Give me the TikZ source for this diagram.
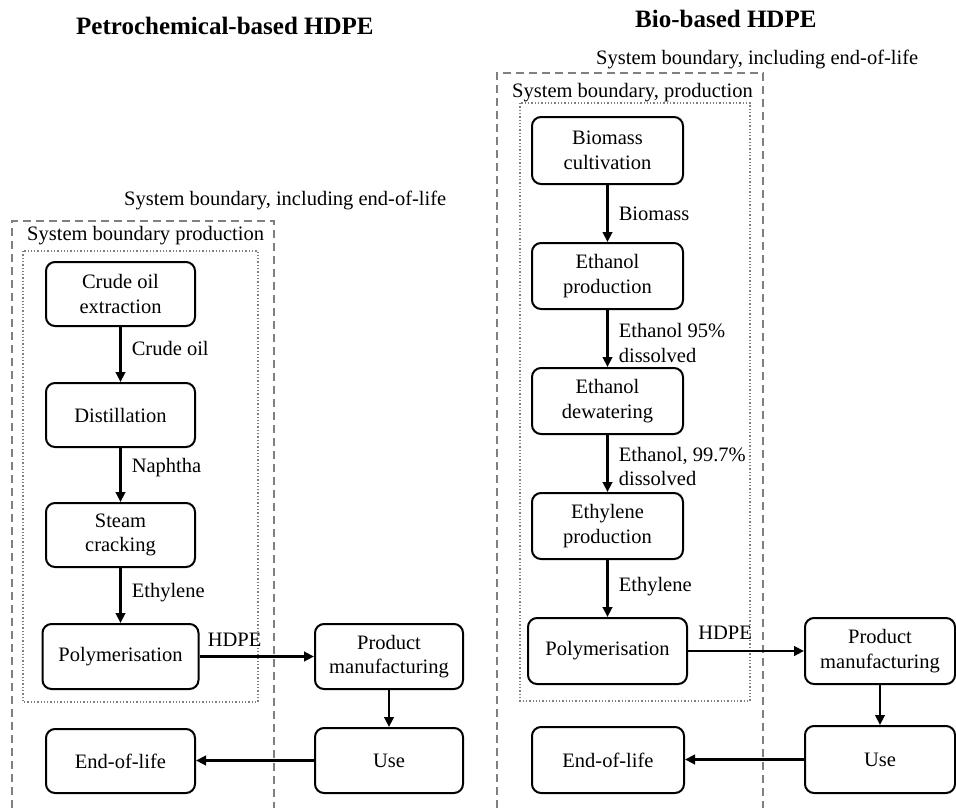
\documentclass[tikz,border=0pt]{standalone}
\usepackage{fontspec}
\setmainfont{Liberation Serif}
\usetikzlibrary{arrows.meta}
\begin{document}
\begin{tikzpicture}[x=1pt,y=-1pt,
 box/.style={draw, line width=2pt, rounded corners=9pt, align=center, font=\fontsize{20.5}{24.5}\selectfont, inner sep=0pt},
 arr/.style={line width=2.6pt, -{Triangle[length=10pt,width=9.5pt]}},
 lbl/.style={font=\fontsize{20.5}{24.5}\selectfont, align=left, inner sep=0pt, anchor=west, xshift=10pt},
 txt/.style={font=\fontsize{20.5}{24.5}\selectfont, inner sep=0pt, anchor=base west},
 ttl/.style={font=\fontsize{25}{30}\selectfont\bfseries, inner sep=0pt, anchor=base west},
 outerb/.style={draw=gray, line width=1.7pt, dash pattern=on 8pt off 5pt},
 innerb/.style={draw=gray, line width=1.3pt, dash pattern=on 1.3pt off 2pt},
]
\useasboundingbox (0,0) rectangle (956,808);

% ---------- titles ----------
\node[ttl] (t1) at (76,35) {Petrochemical-based HDPE};
\node[ttl] (t2) at (635,28) {Bio-based HDPE};

% ---------- boundaries, left ----------
\draw[outerb] (12,808) -- (12,221) -- (274,221) -- (274,808);
\draw[innerb] (23,251) rectangle (258,702);
\node[txt] (lsb1) at (124,205) {System boundary, including end-of-life};
\node[txt] (lsb2) at (27,240) {System boundary production};

% ---------- boundaries, right ----------
\draw[outerb] (497,808) -- (497,73) -- (763,73) -- (763,808);
\draw[innerb] (520,103) rectangle (750,701);
\node[txt] (rsb1) at (596,65) {System boundary, including end-of-life};
\node[txt] (rsb2) at (512,97) {System boundary, production};

% ---------- left nodes ----------
\node[box, minimum width=149pt, minimum height=64pt] (ce) at (120.5,294) {Crude oil\\extraction};
\node[box, minimum width=149pt, minimum height=64pt] (di) at (120.5,415) {Distillation};
\node[box, minimum width=149pt, minimum height=64pt] (sc) at (120.5,535) {Steam\\cracking};
\node[box, minimum width=156pt, minimum height=65pt] (po) at (120.5,656.5) {Polymerisation};
\node[box, minimum width=148pt, minimum height=65pt] (pm) at (389,656.5) {Product\\manufacturing};
\node[box, minimum width=148pt, minimum height=65pt] (us) at (389,760.5) {Use};
\node[box, minimum width=149pt, minimum height=64pt] (eo) at (120.5,761) {End-of-life};

\draw[arr] (ce) -- node[lbl, pos=0.39] {Crude oil} (di);
\draw[arr] (di) -- node[lbl, pos=0.36] {Naphtha} (sc);
\draw[arr] (sc) -- node[lbl, pos=0.44] {Ethylene} (po);
\draw[arr] (po) -- node[pos=0, anchor=base west, inner sep=0pt, xshift=7pt, yshift=10pt, font=\fontsize{20.5}{24.5}\selectfont] {HDPE} (pm);
\draw[arr] (pm) -- (us);
\draw[arr] (us.west) -- (us.west -| eo.east);

% ---------- right nodes ----------
\node[box, minimum width=151pt, minimum height=67pt] (bc) at (607.5,150.5) {Biomass\\cultivation};
\node[box, minimum width=151pt, minimum height=66pt] (ep) at (607.5,276) {Ethanol\\production};
\node[box, minimum width=151pt, minimum height=66pt] (ed) at (607.5,401) {Ethanol\\dewatering};
\node[box, minimum width=151pt, minimum height=66pt] (yp) at (607.5,526) {Ethylene\\production};
\node[box, minimum width=159pt, minimum height=66pt] (rpo) at (607.5,651) {Polymerisation};
\node[box, minimum width=150pt, minimum height=66pt] (rpm) at (880,651) {Product\\manufacturing};
\node[box, minimum width=150pt, minimum height=67pt] (rus) at (880,759.5) {Use};
\node[box, minimum width=152pt, minimum height=66pt] (reo) at (608,760) {End-of-life};

\draw[arr] (bc) -- node[lbl, pos=0.5] {Biomass} (ep);
\draw[arr] (ep) -- node[lbl, pos=0.58] {Ethanol 95\%\\dissolved} (ed);
\draw[arr] (ed) -- node[lbl, pos=0.55] {Ethanol, 99.7\%\\dissolved} (yp);
\draw[arr] (yp) -- node[lbl, pos=0.46] {Ethylene} (rpo);
\draw[arr] (rpo) -- node[pos=0, anchor=base west, inner sep=0pt, xshift=9pt, yshift=12pt, font=\fontsize{20.5}{24.5}\selectfont] {HDPE} (rpm);
\draw[arr] (rpm) -- (rus);
\draw[arr] (rus.west) -- (rus.west -| reo.east);
\end{tikzpicture}
\end{document}
